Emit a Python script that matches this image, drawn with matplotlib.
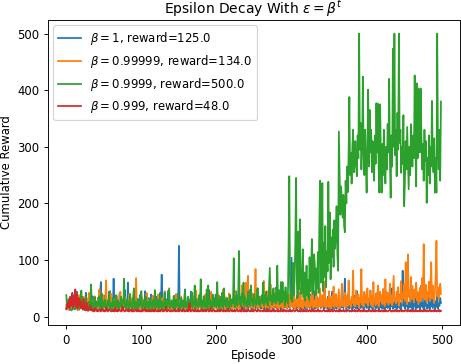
import matplotlib
matplotlib.use("Agg")
import matplotlib.pyplot as plt
import numpy as np

# rewards per episode
beta_1 = [
    14, 22, 17, 31, 12, 19, 25, 11, 16, 38, 21, 13, 27, 18, 44, 15, 23, 12, 29, 17,
    20, 35, 13, 18, 26, 11, 42, 16, 22, 14, 19, 31, 12, 24, 17, 36, 13, 21, 28, 15,
    18, 12, 33, 23, 14, 40, 61, 19, 13, 26, 16, 37, 22, 11, 29, 17, 24, 14, 45, 20,
    13, 27, 18, 67, 15, 22, 12, 34, 19, 25, 14, 41, 16, 23, 11, 30, 18, 21, 47, 13,
    26, 15, 60, 19, 12, 36, 22, 17, 28, 14, 43, 20, 13, 25, 16, 31, 12, 21, 38, 15,
    24, 17, 13, 29, 19, 45, 14, 22, 11, 33, 18, 26, 15, 39, 21, 12, 28, 16, 23, 14,
    35, 19, 13, 25, 17, 42, 20, 74, 15, 27, 12, 22, 18, 31, 14, 24, 46, 16, 20, 13,
    29, 18, 23, 12, 37, 21, 15, 26, 40, 17, 125, 14, 22, 33, 19, 12, 28, 16, 48, 21,
    13, 25, 18, 30, 14, 22, 44, 16, 27, 12, 20, 35, 15, 24, 19, 13, 32, 17, 23, 41,
    15, 28, 12, 21, 18, 36, 14, 26, 20, 13, 47, 17, 23, 15, 31, 19, 12, 25, 16, 39,
    22, 14, 29, 18, 12, 34, 20, 16, 43, 13, 24, 19, 27, 15, 11, 30, 21, 17, 38, 14,
    25, 13, 19, 32, 16, 22, 45, 12, 28, 18, 15, 36, 21, 14, 26, 17, 40, 13, 23, 19,
    16, 30, 12, 24, 47, 18, 14, 27, 21, 13, 35, 19, 15, 42, 22, 12, 29, 17, 25, 14,
    20, 38, 15, 23, 13, 31, 18, 26, 12, 44, 16, 21, 14, 33, 19, 24, 12, 28, 17, 51,
    15, 22, 13, 36, 19, 27, 14, 48, 18, 12, 30, 16, 23, 40, 14, 21, 17, 34, 13, 62,
    104, 18, 25, 14, 29, 20, 12, 37, 16, 23, 15, 43, 19, 13, 28, 21, 17, 50, 14, 26,
    12, 32, 18, 24, 15, 39, 20, 13, 27, 17, 45, 14, 22, 16, 34, 12, 25, 19, 41, 15,
    23, 18, 30, 13, 55, 21, 16, 28, 14, 36, 19, 12, 26, 17, 44, 15, 22, 13, 31, 20,
    14, 27, 18, 38, 12, 24, 16, 49, 21, 15, 33, 67, 19, 13, 28, 17, 42, 14, 23, 18,
    30, 12, 25, 16, 37, 20, 14, 45, 18, 13, 29, 22, 15, 34, 17, 26, 12, 40, 19, 23,
    15, 31, 18, 13, 27, 46, 16, 22, 12, 35, 19, 25, 14, 41, 17, 29, 13, 21, 38, 16,
    24, 14, 32, 19, 12, 28, 17, 43, 15, 22, 36, 13, 26, 18, 50, 14, 23, 16, 31, 20,
    13, 27, 17, 39, 15, 24, 12, 34, 81, 19, 22, 14, 45, 18, 28, 13, 25, 16, 37, 20,
    15, 30, 12, 23, 18, 42, 14, 27, 16, 33, 20, 13, 26, 55, 17, 24, 12, 38, 19, 28,
    14, 21, 16, 35, 13, 25, 18, 47, 15, 22, 30, 12, 27, 17, 40, 14, 23, 19, 33, 24,
]

beta_99999 = [
    21, 15, 28, 12, 18, 33, 14, 24, 17, 30, 13, 22, 45, 16, 26, 11, 19, 38, 14, 23,
    17, 27, 13, 35, 20, 15, 24, 12, 31, 18, 42, 14, 22, 16, 29, 13, 25, 19, 36, 15,
    23, 12, 30, 17, 48, 14, 21, 26, 13, 38, 19, 16, 34, 64, 15, 22, 28, 12, 20, 41,
    16, 25, 13, 31, 18, 22, 14, 37, 17, 12, 27, 20, 44, 15, 23, 13, 29, 18, 35, 14,
    21, 16, 26, 12, 40, 19, 24, 15, 32, 13, 22, 47, 17, 68, 14, 28, 18, 12, 25, 20,
    15, 34, 19, 13, 27, 16, 23, 42, 14, 21, 30, 12, 18, 25, 15, 37, 20, 13, 29, 17,
    24, 14, 39, 18, 12, 26, 21, 15, 33, 19, 13, 45, 16, 22, 28, 14, 20, 36, 17, 12,
    27, 19, 15, 31, 22, 13, 40, 17, 24, 14, 29, 18, 12, 35, 21, 16, 26, 13, 43, 19,
    14, 23, 30, 16, 12, 28, 20, 15, 37, 18, 13, 25, 22, 46, 14, 19, 27, 16, 33, 12,
    21, 17, 29, 14, 24, 39, 15, 20, 13, 31, 18, 26, 12, 44, 16, 22, 35, 14, 19, 28,
    15, 25, 13, 38, 20, 16, 30, 12, 23, 48, 17, 21, 14, 34, 19, 27, 13, 41, 16, 24,
    18, 12, 32, 22, 15, 45, 19, 26, 14, 37, 21, 16, 29, 13, 55, 20, 24, 17, 31, 60,
    14, 26, 72, 19, 33, 16, 23, 41, 15, 28, 13, 38, 84, 20, 17, 50, 14, 25, 36, 18,
    30, 22, 15, 63, 19, 27, 13, 45, 24, 16, 34, 20, 57, 14, 29, 18, 42, 15, 25, 21,
    48, 16, 28, 14, 37, 22, 18, 55, 13, 26, 32, 17, 44, 20, 15, 29, 23, 39, 14, 27,
    19, 35, 16, 52, 21, 14, 30, 25, 18, 75, 15, 24, 38, 17, 28, 13, 46, 22, 19, 33,
    15, 27, 41, 18, 23, 14, 36, 20, 56, 16, 29, 22, 17, 44, 25, 14, 32, 19, 50, 21,
    16, 38, 24, 18, 62, 20, 15, 31, 27, 17, 45, 22, 14, 35, 19, 28, 53, 16, 24, 40,
    21, 17, 33, 48, 15, 26, 20, 58, 18, 30, 23, 42, 16, 37, 25, 19, 64, 22, 28, 17,
    35, 24, 81, 20, 31, 18, 46, 27, 22, 39, 16, 33, 25, 84, 21, 29, 18, 44, 26, 37,
    23, 50, 19, 32, 28, 45, 21, 36, 17, 61, 26, 30, 20, 41, 24, 55, 18, 34, 44, 27,
    38, 22, 49, 29, 19, 66, 25, 35, 42, 21, 31, 58, 24, 37, 20, 46, 72, 28, 33, 23,
    44, 27, 52, 19, 36, 30, 63, 24, 40, 33, 57, 28, 96, 38, 22, 110, 35, 47, 26, 70,
    31, 54, 39, 25, 48, 34, 60, 29, 43, 22, 37, 51, 27, 45, 68, 33, 128, 40, 30, 56,
    26, 42, 35, 62, 28, 49, 96, 32, 55, 38, 24, 46, 70, 134, 36, 52, 29, 44, 58, 40,
]

beta_9999 = [
    38, 14, 22, 17, 29, 12, 25, 19, 33, 15, 21, 27, 13, 42, 18, 24, 16, 31, 14, 20,
    46, 17, 23, 13, 28, 19, 35, 15, 22, 12, 26, 18, 30, 57, 16, 24, 13, 21, 34, 17,
    14, 27, 19, 23, 36, 15, 20, 41, 13, 25, 18, 30, 16, 22, 12, 28, 19, 44, 15, 24,
    21, 13, 33, 18, 26, 14, 38, 20, 16, 29, 12, 24, 19, 35, 15, 22, 27, 67, 17, 23,
    14, 30, 19, 25, 13, 40, 18, 22, 15, 34, 50, 17, 26, 12, 21, 31, 16, 24, 19, 37,
    45, 15, 23, 18, 28, 13, 35, 20, 16, 26, 14, 32, 19, 24, 12, 29, 17, 22, 47, 15,
    25, 18, 31, 14, 21, 38, 16, 27, 13, 23, 19, 42, 15, 28, 20, 17, 34, 50, 14, 24,
    19, 27, 15, 36, 22, 13, 30, 18, 25, 41, 16, 23, 14, 33, 19, 28, 15, 21, 46, 17,
    24, 15, 35, 20, 13, 29, 18, 43, 16, 26, 22, 55, 14, 31, 19, 25, 17, 38, 21, 66,
    15, 28, 20, 36, 16, 24, 19, 48, 13, 55, 22, 30, 17, 26, 14, 39, 21, 18, 33, 25,
    16, 61, 20, 27, 14, 35, 23, 18, 42, 15, 50, 21, 29, 17, 33, 19, 26, 14, 38, 22,
    18, 31, 24, 103, 20, 16, 37, 27, 19, 45, 116, 22, 30, 17, 41, 25, 60, 19, 34, 23,
    28, 17, 44, 21, 36, 19, 55, 25, 32, 18, 40, 23, 29, 20, 48, 50, 22, 35, 19, 27,
    31, 24, 60, 20, 38, 26, 44, 22, 33, 19, 52, 86, 28, 36, 21, 47, 50, 25, 40, 23,
    35, 90, 28, 47, 22, 38, 61, 25, 61, 30, 44, 19, 52, 27, 36, 23, 120, 248, 55, 31,
    42, 26, 95, 38, 64, 130, 245, 70, 33, 150, 48, 172, 85, 40, 60, 119, 35, 78, 28, 52,
    90, 36, 65, 30, 105, 45, 72, 137, 40, 58, 110, 90, 38, 85, 50, 114, 42, 165, 240, 60,
    98, 236, 45, 130, 70, 160, 52, 115, 80, 238, 95, 184, 66, 140, 105, 154, 88, 170, 120, 150,
    195, 110, 81, 327, 248, 180, 230, 202, 175, 215, 160, 149, 240, 200, 265, 220, 290, 388, 250, 289,
    235, 300, 330, 255, 272, 310, 265, 248, 320, 280, 500, 295, 342, 260, 305, 424, 285, 250, 330, 270,
    219, 300, 401, 265, 365, 290, 330, 255, 310, 280, 240, 320, 270, 377, 290, 376, 260, 219, 375, 280,
    219, 305, 250, 330, 270, 235, 300, 260, 340, 290, 420, 275, 210, 320, 265, 473, 300, 500, 285, 330,
    248, 360, 295, 500, 307, 330, 254, 300, 270, 356, 195, 240, 310, 260, 335, 280, 225, 300, 250, 340,
    290, 265, 320, 280, 426, 300, 230, 412, 280, 403, 393, 290, 403, 320, 260, 305, 240, 330, 275, 310,
    201, 280, 250, 320, 235, 300, 265, 381, 290, 255, 315, 219, 280, 219, 500, 300, 260, 330, 240, 380,
]

beta_999 = [
    13, 21, 17, 28, 15, 35, 19, 24, 42, 16, 30, 22, 48, 18, 39, 14, 26, 33, 20, 27,
    15, 23, 12, 31, 14, 18, 11, 25, 13, 10, 16, 12, 20, 11, 14, 10, 12, 9, 15, 11,
    10, 12, 9, 11, 13, 10, 9, 14, 11, 10, 12, 9, 10, 16, 11, 9, 10, 13, 12, 10,
    9, 11, 10, 12, 9, 15, 10, 11, 9, 13, 10, 12, 11, 9, 10, 18, 11, 10, 9, 12,
    11, 10, 13, 9, 10, 12, 11, 9, 14, 10, 9, 11, 12, 10, 9, 13, 10, 11, 9, 10,
    12, 9, 10, 11, 15, 10, 9, 12, 10, 11, 9, 13, 10, 9, 11, 10, 12, 9, 14, 10,
    10, 11, 9, 12, 10, 9, 13, 11, 10, 9, 12, 10, 11, 17, 9, 10, 12, 11, 9, 10,
    11, 9, 10, 13, 10, 12, 9, 11, 10, 14, 9, 10, 12, 11, 9, 10, 13, 10, 9, 11,
    10, 12, 9, 11, 24, 10, 9, 12, 11, 10, 9, 13, 10, 11, 9, 12, 10, 9, 11, 10,
    12, 10, 9, 11, 10, 13, 9, 10, 12, 11, 9, 10, 15, 10, 9, 11, 12, 10, 9, 10,
    11, 9, 12, 10, 10, 9, 13, 11, 10, 9, 12, 10, 11, 9, 10, 14, 10, 9, 11, 12,
    10, 9, 11, 10, 12, 9, 10, 13, 11, 9, 10, 12, 10, 9, 16, 10, 11, 9, 10, 12,
    9, 11, 10, 12, 10, 9, 11, 10, 13, 9, 10, 11, 12, 10, 9, 10, 12, 11, 9, 10,
    11, 10, 9, 12, 10, 11, 9, 14, 10, 9, 12, 10, 11, 9, 10, 13, 10, 9, 11, 10,
    10, 12, 9, 11, 10, 9, 13, 10, 11, 9, 10, 12, 10, 9, 11, 10, 9, 12, 10, 11,
    9, 10, 12, 11, 9, 10, 11, 13, 10, 9, 10, 12, 9, 11, 10, 9, 12, 10, 11, 9,
    10, 11, 9, 10, 12, 10, 9, 11, 10, 13, 9, 10, 11, 9, 10, 12, 10, 9, 11, 10,
    9, 10, 11, 12, 9, 10, 10, 11, 9, 12, 10, 9, 11, 10, 13, 9, 10, 11, 10, 9,
    11, 10, 9, 12, 10, 9, 11, 10, 10, 12, 9, 11, 10, 9, 10, 12, 11, 9, 10, 10,
    9, 11, 10, 10, 12, 9, 10, 11, 9, 10, 13, 10, 9, 11, 10, 9, 12, 10, 11, 9,
    10, 9, 11, 10, 12, 10, 9, 10, 11, 9, 10, 12, 9, 10, 11, 10, 9, 12, 10, 9,
    11, 10, 9, 10, 12, 9, 11, 10, 9, 10, 11, 12, 10, 9, 10, 11, 9, 10, 12, 10,
    9, 10, 11, 9, 10, 12, 10, 9, 11, 10, 9, 10, 12, 11, 9, 10, 10, 11, 9, 12,
    10, 9, 11, 10, 9, 12, 10, 11, 9, 10, 10, 12, 9, 11, 10, 9, 11, 10, 12, 9,
    10, 11, 9, 10, 12, 10, 9, 11, 10, 9, 12, 10, 11, 9, 10, 10, 12, 9, 11, 10,
]

labels = [r'$\beta=1$, reward=125.0',
          r'$\beta=0.99999$, reward=134.0',
          r'$\beta=0.9999$, reward=500.0',
          r'$\beta=0.999$, reward=48.0']

DPI = 83.3
fig = plt.figure(figsize=(462 / DPI, 364 / DPI), dpi=DPI)
ax = fig.add_axes([0.103, 0.106, 0.892, 0.840])

for series, lab in zip([beta_1, beta_99999, beta_9999, beta_999], labels):
    ax.plot(np.arange(len(series)), series, label=lab)

ax.set_title(r'Epsilon Decay With $\varepsilon = \beta^t$', pad=5)
ax.set_xlabel('Episode', labelpad=2)
ax.set_ylabel('Cumulative Reward')
ax.legend(loc='upper left')

fig.savefig('out.png', dpi=DPI)
